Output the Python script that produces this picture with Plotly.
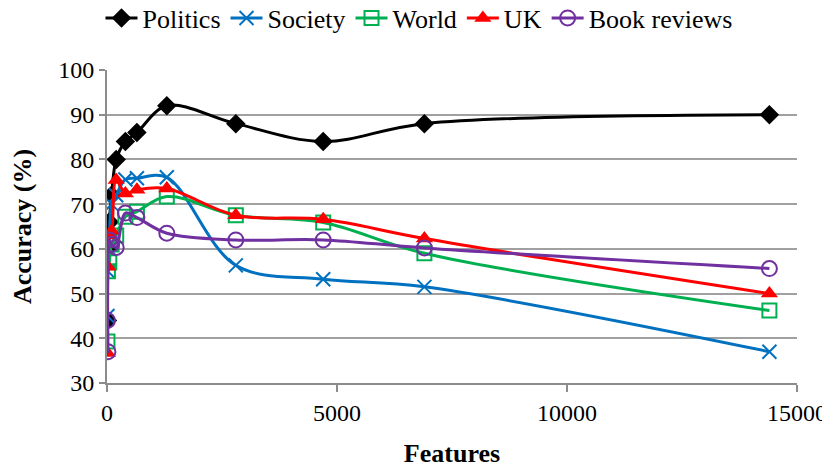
import plotly.graph_objects as go

features = [10, 20, 50, 100, 200, 400, 650, 1300, 2800, 4700, 6900, 14400]
politics = [44, 60, 66, 72, 80, 84, 86, 92, 88, 84, 88, 90]
society = [45, 55, 60, 70, 72, 75.5, 75.8, 76, 56.3, 53.2, 51.5, 37]
world = [39.3, 55, 57, 61, 63, 67.2, 68.3, 71.7, 67.5, 65.9, 59, 46.2]
uk = [36.7, 56, 63, 64, 75.4, 72.4, 73.2, 73.5, 67.5, 66.6, 62.3, 50]
book = [44, 37, 62, 61, 60.3, 68, 67, 63.5, 62, 62, 60.2, 55.6]
x_ticks = [0, 5000, 10000, 15000]
x_tick_labels = ["0", "5000", "10000", "15000"]

series = [
    ("Politics", politics, "#000000", "diamond", 15, 0),
    ("Society", society, "#0070C0", "x-thin-open", 14, 2),
    ("World", world, "#00B050", "square-open", 14, 2),
    ("UK", uk, "#FF0000", "triangle-up", 15, 0),
    ("Book reviews", book, "#7030A0", "circle-open", 15, 2),
]

fig = go.Figure()
for name, vals, color, sym, size, lw in series:
    fig.add_trace(go.Scatter(
        x=features, y=vals, name=name, mode="lines+markers",
        line=dict(color=color, width=3, shape="spline", smoothing=1.0),
        marker=dict(symbol=sym, size=size, color=color,
                    line=dict(color=color, width=lw)),
    ))

font = "Liberation Serif"
fig.update_layout(
    width=822, height=460,
    margin=dict(l=99, r=33, t=62, b=85, autoexpand=False),
    paper_bgcolor="white", plot_bgcolor="white",
    font=dict(family=font, size=24, color="black"),
    showlegend=True,
    legend=dict(orientation="h", x=0.5, xanchor="center", xref="container",
                y=1.166, yanchor="middle", yref="paper",
                font=dict(family=font, size=26), itemwidth=32,
                tracegroupgap=0, traceorder="normal", bgcolor="rgba(0,0,0,0)"),
    xaxis=dict(range=[0, 15000], tickvals=x_ticks, ticktext=x_tick_labels,
               showgrid=False, showline=True, linecolor="#8c8c8c", linewidth=2,
               ticks="outside", ticklen=7, tickcolor="#8c8c8c", tickwidth=2,
               zeroline=False, tickfont=dict(family=font, size=24),
               title=dict(text="<b>Features</b>", font=dict(family=font, size=26), standoff=19)),
    yaxis=dict(range=[30, 100], dtick=10, showgrid=True, gridcolor="#a0a0a0",
               gridwidth=2, showline=True, linecolor="#8c8c8c", linewidth=2,
               ticks="outside", ticklen=6, tickcolor="#8c8c8c", tickwidth=2,
               zeroline=False, tickfont=dict(family=font, size=24),
               title=dict(text="<b>Accuracy (%)</b>", font=dict(family=font, size=26), standoff=22)),
)
fig.write_html("out.html")
